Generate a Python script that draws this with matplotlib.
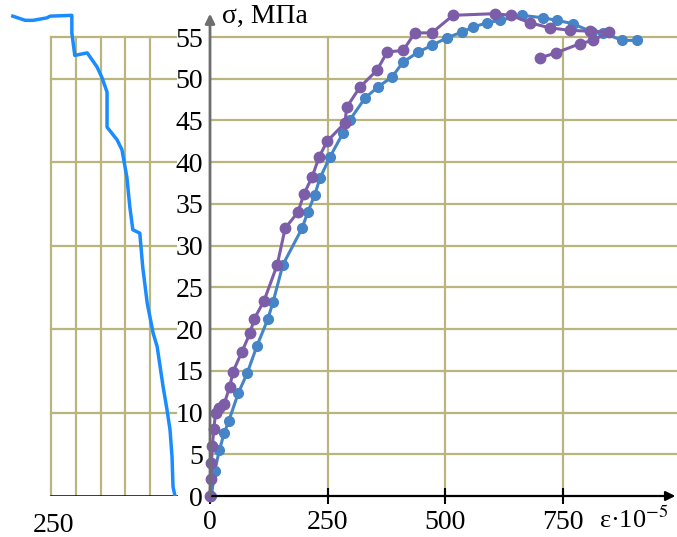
import numpy as np
import matplotlib
matplotlib.use("Agg")
from matplotlib import pyplot as plt

plt.rcParams['font.family'] = ['Liberation Serif', 'DejaVu Serif']
plt.rcParams['mathtext.fontset'] = 'stix'

# longitudinal strain, purple series  [1e-5], stress [MPa]
eps_purple = [0, 2, 3, 5, 8, 12, 20, 30, 42, 49, 68, 85, 94, 115, 143, 160, 187, 200,
              217, 232, 249, 287, 291, 319, 355, 377, 411, 436, 472, 517, 606, 640,
              681, 723, 766, 808, 849, 815, 787, 736, 702]
sig_purple = [0, 2, 4, 6, 8, 10, 10.5, 11, 13.1, 14.9, 17.3, 19.5, 21.2, 23.4, 27.7,
              32.1, 34.0, 36.2, 38.2, 40.6, 42.5, 44.7, 46.6, 49.0, 51.0, 53.2, 53.4,
              55.5, 55.5, 57.6, 57.8, 57.6, 56.7, 56.1, 55.8, 55.7, 55.6, 54.6, 54.2,
              53.1, 52.5]

# longitudinal strain, blue series
eps_blue = [3, 10, 20, 30, 40, 60, 79, 100, 123, 134, 155, 196, 208, 223, 234, 255,
            283, 298, 330, 357, 387, 411, 443, 472, 504, 536, 560, 589, 617, 664, 709,
            738, 772, 813, 836, 877, 909]
sig_blue = [0, 3, 5.5, 7.5, 9, 12.3, 14.7, 18, 21.2, 23.2, 27.7, 32.1, 34.0, 36.1,
            38.1, 40.6, 43.5, 45.1, 47.7, 49.0, 50.2, 52.0, 53.2, 54.0, 54.9, 55.6,
            56.2, 56.7, 57.0, 57.6, 57.3, 57.0, 56.6, 55.6, 55.5, 54.6, 54.6]

# transverse strain (left part)
eps_trans = [327, 302, 286, 258, 252, 208, 208, 202, 177, 157, 147, 137, 137, 117, 107,
             97, 91, 85, 71, 65, 56, 44, 36, 24, 16, 10, 6, 4, 0]
sig_trans = [57.5, 57.0, 57.0, 57.3, 57.5, 57.6, 55.5, 52.8, 53.1, 51.4, 50.1, 48.4,
             44.2, 42.7, 41.5, 38.2, 34.6, 31.9, 31.5, 27.4, 23.1, 19.5, 17.9, 13.1,
             10.3, 7.9, 4.7, 1.1, 0]

y_ticks = list(range(0, 60, 5))
x_ticks = [0, 250, 500, 750]
left_grid_x = [250, 200, 150, 100, 50]
left_grid_y = [10, 20, 30, 40, 50, 55]

grid_c = '#b9b57c'
W, H = 677, 537
ymax = 496 / 8.345

fig = plt.figure(figsize=(W / 100, H / 100), dpi=100)
ax = fig.add_axes([210 / W, 41 / H, 467 / W, 496 / H])
axl = fig.add_axes([0, 41 / H, 178 / W, 496 / H])

# right part
ax.set_xlim(0, 467 / 0.47)
ax.set_ylim(0, ymax)
for s in ax.spines.values():
    s.set_visible(False)
for y in y_ticks[1:]:
    ax.axhline(y, color=grid_c, lw=1.6, zorder=1)
for x in x_ticks[1:]:
    ax.plot([x, x], [0, 55], color=grid_c, lw=1.6, zorder=1)

ax.plot(eps_blue, sig_blue, color='#4584c6', lw=2.2, marker='o', ms=7, zorder=3,
        clip_on=False)
ax.plot(eps_purple, sig_purple, color='#7c5ea8', lw=2.2, marker='o', ms=7.5, zorder=4,
        clip_on=False)

ax.set_yticks(y_ticks)
ax.set_yticklabels([str(v) for v in y_ticks])
ax.tick_params(axis='y', length=0, pad=5, labelsize=20)
ax.set_xticks(x_ticks)
ax.set_xticklabels([str(v) for v in x_ticks])
ax.tick_params(axis='x', direction='inout', length=12, width=1.5, pad=4, labelsize=20)

# axis arrows
ax.annotate('', xy=(990, 0), xytext=(0, 0), xycoords='data',
            arrowprops=dict(arrowstyle='-|>', color='black', lw=1.6,
                            mutation_scale=14, shrinkA=0, shrinkB=0),
            annotation_clip=False, zorder=5)
ax.annotate('', xy=(0, 57.8), xytext=(0, 0), xycoords='data',
            arrowprops=dict(arrowstyle='-|>', color='#6e6e6e', lw=2,
                            mutation_scale=14, shrinkA=0, shrinkB=0),
            annotation_clip=False, zorder=5)
ax.text(26, 57.5, 'σ, МПа', fontsize=20, va='center', ha='left')
ax.text(828, -2.9, r'ε·10$^{-5}$', fontsize=19, va='center', ha='left', clip_on=False)

# left part (transverse strain)
axl.set_xlim(175 / 0.496, -3 / 0.496)
axl.set_ylim(0, ymax)
axl.axis('off')
for y in left_grid_y:
    axl.plot([250, -3], [y, y], color=grid_c, lw=1.6, zorder=1)
for x in left_grid_x:
    axl.plot([x, x], [0, 55], color=grid_c, lw=1.6, zorder=1)
axl.plot([250, -6], [0, 0], color='black', lw=1.8, zorder=2)
axl.plot(eps_trans, sig_trans, color='#1a8cff', lw=2.5, zorder=3)
axl.text(245, -3.5, '250', fontsize=20, ha='center', va='center')

fig.savefig('out.png', dpi=100)
